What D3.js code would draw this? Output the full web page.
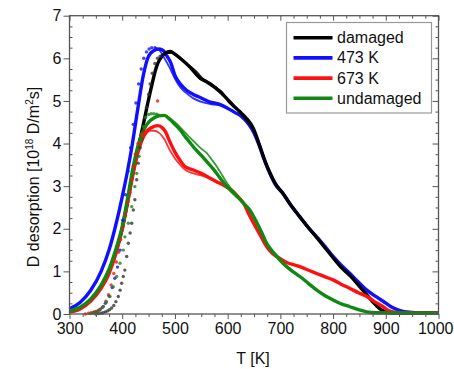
<!DOCTYPE html>
<html><head><meta charset="utf-8">
<script src="https://cdn.jsdelivr.net/npm/d3@7/dist/d3.min.js"></script>
<style>
html,body{margin:0;padding:0;background:#fff;}
svg{display:block;}
text{font-family:"Liberation Sans",Arial,sans-serif;fill:#111;}
</style></head>
<body>
<svg id="chart" width="454" height="369"></svg>
<script>
// ---- data ----
const xTicks = [300,400,500,600,700,800,900,1000];
const yTicks = [0,1,2,3,4,5,6,7];
const seriesNames = ["damaged","473 K","673 K","undamaged"];
const seriesColors = ["#000000","#1010ff","#ff1010","#118811"];

const damagedMain = [[300,0.05],[320,0.13],[340,0.32],[360,0.64],[375,1.0],[390,1.55],[400,2.0],[410,2.62],[420,3.3],[428,3.75],[440,4.45],[453,5.2],[465,5.8],[478,6.08],[491,6.16],[500,6.1],[510,6.0],[528,5.8],[548,5.53],[560,5.45],[573,5.34],[585,5.22],[598,5.06],[610,4.9],[623,4.75],[635,4.6],[649,4.35],[660,3.98],[670,3.62],[680,3.32],[690,3.07],[705,2.83],[720,2.55],[737,2.28],[755,2.0],[770,1.78],[785,1.55],[800,1.32],[815,1.1],[832,0.9],[848,0.68],[864,0.45],[878,0.25],[889,0.12],[900,0.05],[915,0.02],[1000,0.02]];
const damagedDots = [[350,0.0],[355,0.01],[360,0.02],[364,0.03],[368,0.05],[372,0.07],[376,0.1],[380,0.14],[384,0.2],[388,0.29],[392.6,0.41],[396,0.56],[399,0.72],[402,0.88],[405,1.03],[408.5,1.35],[411.6,1.66],[415,1.9],[418,2.13],[421,2.44],[424,2.68],[427.5,3.15],[430.5,3.54],[434,3.9],[437,4.1],[440,4.3],[443,4.6],[446,4.85],[450,5.15],[453,5.4],[457,5.65],[462,5.88],[467,6.0],[472,6.05]];
const damagedSecond = [[472,6.05],[485,6.12],[495,6.12],[505,6.05],[515,5.95],[525,5.85],[540,5.7],[555,5.5],[570,5.4],[580,5.3],[590,5.2],[600,5.0],[615,4.85],[630,4.62],[645,4.4],[655,4.15]];

const k473Main = [[300,0.12],[320,0.27],[340,0.55],[360,1.0],[375,1.5],[390,2.2],[400,2.75],[410,3.35],[420,4.05],[430,4.85],[440,5.6],[450,6.05],[460,6.18],[470,6.22],[478,6.18],[485,6.05],[492,5.9],[500,5.6],[510,5.4],[522,5.25],[535,5.15],[548,5.08],[565,4.98],[585,4.92],[600,4.83],[615,4.72],[625,4.65],[640,4.45],[650,4.25],[660,3.95],[670,3.6],[680,3.3],[690,3.05],[705,2.83],[720,2.55],[737,2.28],[755,2.0],[770,1.8],[785,1.58],[800,1.35],[815,1.15],[832,0.95],[848,0.75],[864,0.56],[880,0.42],[895,0.3],[910,0.17],[927,0.08],[945,0.04],[960,0.03],[1000,0.02]];
const k473Dots = [[345,0.03],[350,0.05],[356,0.09],[362,0.15],[368,0.25],[375,0.42],[381,0.62],[386,0.84],[391,1.1],[396,1.5],[401,2.2],[406,2.8],[411,3.35],[416,3.9],[421,4.45],[426,4.95],[431,5.4],[436,5.75],[441,6.0],[446,6.15],[451,6.22],[456,6.25],[462,6.25]];
const k473Second = [[462,6.25],[470,6.2],[480,6.0],[490,5.78],[500,5.52],[510,5.32],[520,5.2],[535,5.06],[550,4.98],[570,4.92],[590,4.88],[610,4.75]];

const k673Main = [[300,0.05],[320,0.12],[340,0.3],[360,0.6],[375,0.95],[390,1.5],[400,2.0],[410,2.6],[420,3.25],[430,3.8],[440,4.15],[450,4.33],[460,4.4],[468,4.42],[475,4.38],[482,4.28],[490,4.05],[500,3.8],[510,3.6],[520,3.45],[535,3.38],[550,3.3],[565,3.2],[580,3.1],[595,3.0],[610,2.88],[620,2.75],[630,2.6],[642,2.3],[655,2.0],[665,1.78],[674,1.58],[685,1.42],[693,1.35],[710,1.22],[737,1.11],[755,1.02],[769,0.95],[785,0.87],[800,0.8],[815,0.7],[832,0.6],[848,0.5],[864,0.41],[880,0.28],[895,0.17],[905,0.08],[914,0.05],[930,0.03],[1000,0.02]];
const k673Dots = [[330,0.0],[336,0.02],[341,0.03],[346,0.05],[350,0.06],[354,0.08],[358,0.11],[364,0.18],[369,0.3],[374,0.45],[379,0.68],[384,0.95],[389,1.22],[393,1.45],[397,1.75],[401,2.02],[405,2.35],[410,2.62],[415,2.85],[418,3.15],[421,3.46],[425,3.75],[430,4.0],[436,4.2],[442,4.28],[448,4.3],[467,5.0]];
const k673Second = [[448,4.3],[460,4.3],[470,4.25],[480,4.1],[490,3.85],[500,3.65],[510,3.5],[520,3.38],[535,3.3],[550,3.25],[565,3.18],[580,3.08]];

const undamagedMain = [[300,0.07],[320,0.16],[340,0.35],[360,0.68],[375,1.05],[390,1.6],[400,2.05],[410,2.7],[420,3.4],[430,3.95],[440,4.3],[450,4.5],[460,4.6],[470,4.65],[480,4.66],[490,4.57],[500,4.45],[510,4.32],[520,4.15],[530,4.0],[540,3.85],[550,3.72],[560,3.58],[573,3.4],[585,3.2],[598,3.0],[610,2.85],[620,2.73],[630,2.6],[642,2.44],[655,2.15],[665,1.9],[674,1.66],[690,1.4],[705,1.19],[720,1.03],[737,0.88],[753,0.72],[769,0.56],[785,0.43],[800,0.33],[815,0.24],[832,0.17],[848,0.1],[864,0.05],[880,0.03],[1000,0.02]];
const undamagedDots = [[340,0.01],[346,0.03],[352,0.05],[358,0.1],[364,0.17],[370,0.28],[376.8,0.41],[383,0.64],[389.5,0.88],[395.8,1.19],[402,1.5],[405,1.81],[411.6,2.13],[418,2.52],[424,2.99],[427.5,3.3],[432,3.7],[436,4.1],[440,4.4],[445,4.62],[450,4.68],[455,4.7],[460,4.7],[465,4.69]];
const undamagedSecond = [[465,4.69],[470,4.68],[480,4.66],[490,4.6],[500,4.5],[510,4.38],[520,4.25],[530,4.12],[540,4.0],[550,3.88],[560,3.78],[570,3.62],[580,3.45],[590,3.25],[600,3.05],[615,2.82],[630,2.6]];

// ---- chart ----
const svg = d3.select("#chart");
const x = d3.scaleLinear().domain([300,1000]).range([69.5,438.5]);
const y = d3.scaleLinear().domain([0,7]).range([314,15.7]);
const frameColor = "#555";

const line = d3.line().x(d=>x(d[0])).y(d=>y(d[1])).curve(d3.curveMonotoneX);

const plot = svg.append("g");
const groups = [
  {main:k473Main, dots:k473Dots, second:k473Second, color:seriesColors[1]},
  {main:damagedMain, dots:damagedDots, second:damagedSecond, color:seriesColors[0]},
  {main:k673Main, dots:k673Dots, second:k673Second, color:seriesColors[2]},
  {main:undamagedMain, dots:undamagedDots, second:undamagedSecond, color:seriesColors[3]}
];
// main lines in order: blue, black, red, green; secondary traces drawn over blue/black region
groups.forEach(g=>{
  plot.append("path").datum(g.main).attr("d",line).attr("fill","none")
    .attr("stroke",g.color).attr("stroke-width",3.4).attr("stroke-linejoin","round");
});
groups.forEach(g=>{
  plot.append("path").datum(g.second).attr("d",line).attr("fill","none")
    .attr("stroke",g.color).attr("stroke-width",1.8).attr("opacity",0.85);
  plot.selectAll(null).data(g.dots).enter().append("circle")
    .attr("cx",d=>x(d[0])).attr("cy",d=>y(d[1])).attr("r",1.7)
    .attr("fill",g.color==="#000000"?"#333":g.color).attr("opacity",0.8);
});

// axes
const minorX = d3.range(300,1001,25).filter(v=>v%100!==0);
const minorY = d3.range(0,7.01,0.25).filter(v=>Math.abs(v-Math.round(v))>1e-6);

function styleAxis(g){
  g.select(".domain").remove();
  g.selectAll("line").attr("stroke",frameColor).attr("stroke-width",1);
  g.selectAll("text").attr("font-size",16).attr("fill","#111")
    .attr("font-family","Liberation Sans, Arial, sans-serif");
}
// bottom
const bottom = svg.append("g").attr("transform","translate(0,314)")
  .call(d3.axisBottom(x).tickValues(xTicks).tickSize(5).tickPadding(4).tickFormat(d3.format("d")))
  .call(styleAxis);
// keep last label inside the canvas
bottom.selectAll(".tick").filter(d=>d===1000).select("text")
  .attr("text-anchor","end").attr("x",453-x(1000));
svg.append("g").attr("transform","translate(0,314)")
  .call(d3.axisBottom(x).tickValues(minorX).tickSize(3).tickFormat(""))
  .call(styleAxis);
// top (inward)
svg.append("g").attr("transform","translate(0,15.7)")
  .call(d3.axisBottom(x).tickValues(xTicks).tickSize(5).tickFormat(""))
  .call(styleAxis);
svg.append("g").attr("transform","translate(0,15.7)")
  .call(d3.axisBottom(x).tickValues(minorX).tickSize(3).tickFormat(""))
  .call(styleAxis);
// left
svg.append("g").attr("transform","translate(69.5,0)")
  .call(d3.axisLeft(y).tickValues(yTicks).tickSize(6).tickPadding(2).tickFormat(d3.format("d")))
  .call(styleAxis);
svg.append("g").attr("transform","translate(69.5,0)")
  .call(d3.axisRight(y).tickValues(minorY).tickSize(3).tickFormat(""))
  .call(styleAxis);
// right (inward)
svg.append("g").attr("transform","translate(438.5,0)")
  .call(d3.axisLeft(y).tickValues(yTicks).tickSize(6).tickFormat(""))
  .call(styleAxis);
svg.append("g").attr("transform","translate(438.5,0)")
  .call(d3.axisLeft(y).tickValues(minorY).tickSize(3).tickFormat(""))
  .call(styleAxis);

// frame
svg.append("rect").attr("x",69.5).attr("y",15.7).attr("width",369).attr("height",298.3)
  .attr("fill","none").attr("stroke",frameColor).attr("stroke-width",1.3);

// axis titles
svg.append("text").attr("x",253).attr("y",364).attr("text-anchor","middle")
  .attr("font-size",16).text("T [K]");
const yt = svg.append("text").attr("transform","translate(39,177) rotate(-90)")
  .attr("text-anchor","middle").attr("font-size",16);
yt.append("tspan").text("D desorption [10");
yt.append("tspan").attr("font-size",10).attr("dy",-6).text("18");
yt.append("tspan").attr("dy",6).text(" D/m");
yt.append("tspan").attr("font-size",10).attr("dy",-6).text("2");
yt.append("tspan").attr("dy",6).text("s]");

// legend
const lg = svg.append("g");
lg.append("rect").attr("x",286.5).attr("y",22.5).attr("width",145).attr("height",90.5)
  .attr("fill","#fff").attr("stroke","#999").attr("stroke-width",1.2);
seriesNames.forEach((n,i)=>{
  const cy = 37.7 + i*20.2;
  lg.append("line").attr("x1",293.5).attr("x2",332.5).attr("y1",cy).attr("y2",cy)
    .attr("stroke",seriesColors[i]).attr("stroke-width",3.6);
  lg.append("text").attr("x",337).attr("y",cy+5.5).attr("font-size",16).text(n);
});
</script>
</body></html>
